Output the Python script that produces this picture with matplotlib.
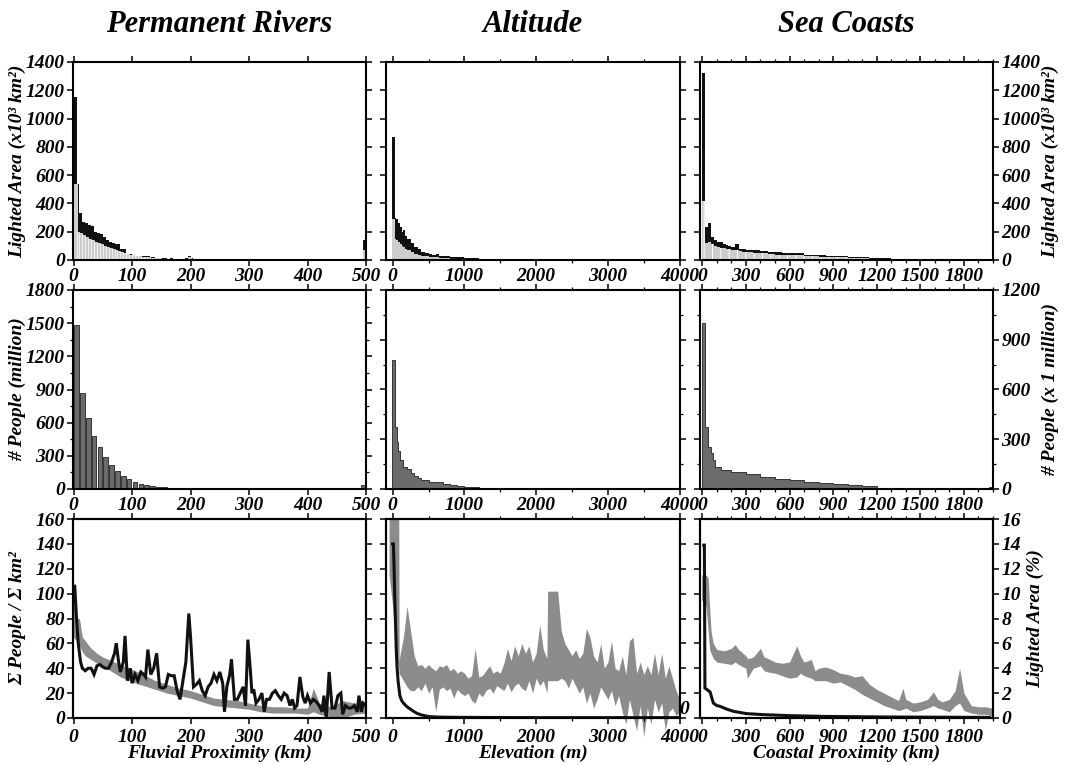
import numpy as np
import matplotlib
matplotlib.use("Agg")
import matplotlib.pyplot as plt
from matplotlib.ticker import MultipleLocator

plt.rcParams['font.family'] = ['Liberation Serif', 'DejaVu Serif']
plt.rcParams['font.weight'] = 'bold'
plt.rcParams['font.style'] = 'italic'
plt.rcParams['font.size'] = 14
plt.rcParams['axes.labelweight'] = 'bold'
plt.rcParams['axes.linewidth'] = 1.5
plt.rcParams['hatch.linewidth'] = 0.7
plt.rcParams['hatch.color'] = 'white'

# ---- top row: lighted area (x10^3 km^2) ----
riv_x = np.arange(0, 500, 5)
riv_total = [1150, 540, 330, 270, 260, 250, 240, 200, 190, 185,
             160, 140, 125, 120, 110, 110, 80, 75, 45, 40,
             35, 30, 28, 25, 25, 30, 22, 20, 15, 13,
             12, 12, 10, 12, 10, 8, 8, 8, 15, 25,
             12, 8, 6, 5, 5, 5, 5, 7, 7, 5,
             4, 4, 4, 5, 4, 3, 3, 3, 3, 5,
             3, 3, 2, 2, 3, 2, 2, 2, 2, 2,
             2, 2, 2, 2, 2, 2, 2, 2, 2, 2,
             2, 2, 2, 2, 2, 2, 2, 2, 2, 2,
             2, 2, 2, 2, 2, 2, 2, 2, 2, 140]
riv_lit = [540, 200, 190, 180, 165, 150, 140, 130, 120, 112,
           100, 95, 88, 80, 72, 65, 58, 52, 42, 38,
           32, 28, 25, 22, 20, 20, 17, 15, 12, 11,
           10, 9, 8, 9, 8, 6, 6, 6, 10, 18,
           9, 6, 5, 4, 4, 4, 4, 5, 5, 4,
           3, 3, 3, 4, 3, 2, 2, 2, 2, 4,
           2, 2, 1, 1, 2, 1, 1, 1, 1, 1,
           1, 1, 1, 1, 1, 1, 1, 1, 1, 1,
           1, 1, 1, 1, 1, 1, 1, 1, 1, 1,
           1, 1, 1, 1, 1, 1, 1, 1, 1, 70]

elev_x = [-15, 30, 50, 75, 100, 125, 150, 175, 200, 250, 300, 350, 400, 450, 500, 550, 600, 650,
          700, 800, 900, 1000, 1100, 1200, 1300, 1400, 1500, 1600, 1700, 1800, 1900, 2000, 2100,
          2200, 2300, 2400, 2500]
elev_total = [870, 300, 290, 260, 230, 200, 215, 170, 150, 120, 90, 75, 60, 50, 42, 38, 40, 30,
              25, 22, 18, 14, 12, 10, 8, 8, 6, 7, 5, 4, 3, 3, 2, 2, 2, 1, 0]
elev_lit = [290, 150, 140, 125, 110, 100, 90, 80, 70, 55, 45, 38, 30, 26, 22, 20, 18, 15,
            13, 10, 8, 7, 6, 5, 4, 4, 3, 3, 2, 2, 1.5, 1.5, 1, 1, 0.5, 0.5, 0]

coast_x = [0, 20, 40, 60, 80, 100, 120, 140, 160, 180, 200, 225, 250, 275, 300, 350, 400, 450,
           500, 550, 600, 650, 700, 750, 800, 850, 900, 950, 1000, 1050, 1100, 1150, 1200, 1250,
           1300, 1350, 1400, 1450, 1500, 1600, 1700, 1800, 1900, 1975, 2000]
coast_total = [1320, 230, 265, 160, 140, 130, 125, 115, 105, 100, 95, 110, 80, 75, 72, 70, 65, 58,
               55, 52, 48, 50, 38, 35, 32, 28, 27, 25, 22, 20, 18, 15, 15, 12,
               10, 9, 8, 7, 6, 5, 4, 3, 3, 8, 8]
coast_lit = [420, 120, 130, 110, 100, 90, 85, 82, 80, 76, 72, 70, 62, 58, 55, 50, 46, 42,
             38, 35, 32, 34, 28, 26, 24, 22, 20, 18, 16, 14, 12, 10, 9, 8,
             7, 6, 5, 4.5, 4, 3, 2.5, 2, 1.5, 4, 4]

# ---- middle row: people (million) ----
riv_pop_x = np.arange(0, 500, 10)
riv_people = [1480, 870, 640, 480, 380, 290, 215, 160, 120, 90,
              62, 45, 35, 28, 22, 18, 12, 9, 7, 5,
              6, 3, 2, 2, 1, 1, 1, 1, 1, 1,
              1, 1, 1, 1, 1, 1, 1, 1, 1, 1,
              1, 1, 1, 1, 1, 1, 1, 1, 1, 40]

elev_pop_x = [-15, 30, 55, 80, 100, 150, 200, 250, 300, 350, 400, 500, 600, 700, 800, 900,
              1000, 1200, 1400, 1600, 1800, 2000, 2200, 2400]
elev_pop = [775, 376, 285, 230, 175, 135, 120, 95, 80, 64, 55, 44, 40, 28, 24, 18,
            14, 8, 5, 4, 2, 2, 1, 0]

coast_pop_x = [0, 20, 40, 60, 75, 90, 130, 200, 300, 400, 500, 600, 650, 700, 800, 900,
               1000, 1100, 1200, 1300, 1400, 1500, 1975, 2000]
coast_pop = [1000, 376, 255, 215, 175, 130, 115, 105, 90, 75, 62, 52, 55, 45, 38, 32,
             26, 16, 6, 2, 1, 0, 10, 10]

# ---- bottom row: people per km2 (line) and lighted area % (band) ----
riv_dens_x = [2, 5, 8, 12, 15, 20, 25, 30, 35, 40,
              45, 50, 55, 60, 65, 70, 73, 77, 80, 85,
              88, 92, 97, 100, 105, 110, 115, 120, 123, 127,
              132, 137, 142, 147, 152, 157, 162, 167, 172, 177,
              182, 187, 192, 197, 200, 205, 210, 215, 220, 225,
              230, 235, 240, 245, 250, 255, 258, 262, 267, 270,
              275, 280, 285, 290, 294, 298, 302, 305, 308, 312,
              317, 322, 326, 330, 335, 340, 345, 350, 355, 360,
              365, 370, 374, 378, 382, 387, 392, 396, 400, 405,
              410, 415, 420, 425, 428, 432, 437, 442, 447, 452,
              457, 460, 465, 470, 475, 480, 485, 488, 492, 495, 500]
riv_dens = [106, 80, 60, 45, 40, 38, 40, 40, 35, 42,
            43, 41, 40, 40, 45, 52, 60, 45, 37, 45,
            66, 30, 40, 28, 35, 30, 37, 35, 33, 55,
            35, 40, 52, 25, 24, 25, 35, 34, 34, 22,
            15, 30, 45, 84, 65, 25, 27, 30, 22, 18,
            25, 28, 35, 30, 37, 28, 5, 25, 35, 47,
            15, 15, 20, 25, 10, 63, 40, 20, 23, 12,
            15, 20, 5, 15, 15, 20, 22, 18, 15, 20,
            18, 10, 15, 8, 10, 33, 17, 12, 18, 12,
            15, 13, 10, 5, 18, 0, 37, 8, 8, 18,
            20, 3, 10, 8, 8, 10, 5, 18, 5, 12, 10]
riv_band_x = [0, 5, 10, 15, 20, 30, 40, 50, 60, 70, 80, 90, 100, 120, 140, 160, 180, 200,
              220, 240, 260, 280, 300, 320, 340, 360, 380, 400, 410, 420, 440, 460, 480, 500]
riv_band_hi = [9.8, 8.0, 8.0, 6.5, 6.2, 5.6, 5.2, 4.9, 4.7, 4.5, 4.3, 4.1, 3.9, 3.5, 3.0, 2.7, 2.4, 2.2,
               1.9, 1.6, 1.5, 1.4, 1.2, 1.0, 0.9, 0.9, 0.8, 0.8, 2.4, 1.2, 0.9, 1.4, 1.2, 1.2]
riv_band_lo = [6.5, 6.2, 5.8, 5.3, 5.0, 4.7, 4.4, 4.1, 3.9, 3.6, 3.3, 3.1, 2.9, 2.6, 2.3, 2.0, 1.8, 1.6,
               1.3, 1.0, 0.9, 0.8, 0.7, 0.5, 0.4, 0.4, 0.4, 0.3, 0.5, 0.3, 0.1, 0.0, 0.3, 0.4]

elev_dens_x = [0, 10, 20, 30, 40, 50, 60, 75, 100, 125, 150, 200, 250, 300, 350, 400, 450,
               500, 600, 800, 1000, 1500, 2000, 2500, 3000, 3500, 4000]
elev_dens = [140, 140, 120, 95, 75, 55, 42, 30, 18, 14, 12, 9, 7, 5, 3.5, 2.5, 1.8,
             1.2, 0.8, 0.6, 0.5, 0.4, 0.3, 0.3, 0.3, 0.3, 0.3]
elev_band_x = [-50, 0, 50, 85, 90, 100, 150, 200, 250, 300,
               350, 400, 450, 500, 550, 600, 650, 700, 750, 800,
               850, 900, 950, 1000, 1050, 1100, 1150, 1200, 1250, 1300,
               1350, 1400, 1450, 1500, 1550, 1600, 1650, 1700, 1750, 1800,
               1850, 1900, 1950, 2000, 2050, 2100, 2150, 2160, 2300, 2350,
               2400, 2450, 2500, 2550, 2600, 2650, 2700, 2750, 2800, 2850,
               2900, 2950, 3000, 3050, 3100, 3150, 3200, 3250, 3300, 3350,
               3400, 3450, 3500, 3550, 3600, 3650, 3700, 3750, 3800, 3850,
               3900, 3950, 4000]
elev_band_hi = [16, 16, 16, 16, 4.5, 5.0, 6.5, 9.0, 7.0, 5.0,
                4.2, 4.3, 4.0, 4.3, 4.0, 3.8, 4.2, 4.1, 4.3, 3.8,
                4.0, 3.6, 3.8, 3.6, 3.2, 3.4, 5.6, 3.3, 3.4, 3.8,
                4.2, 3.6, 3.8, 3.6, 4.4, 5.6, 4.6, 5.8, 5.0, 6.0,
                5.2, 5.8, 4.5, 5.2, 7.5, 5.5, 4.8, 10.2, 10.2, 7.0,
                6.0, 5.5, 5.0, 5.5, 4.8, 5.2, 7.2, 6.5, 5.0, 4.5,
                6.0, 4.0, 4.5, 6.2, 4.0, 3.8, 5.0, 3.5, 6.2, 6.5,
                3.6, 4.5, 3.5, 4.2, 3.5, 5.2, 3.5, 5.2, 3.2, 4.2,
                3.2, 2.2, 1.5]
elev_band_lo = [11.5, 9.0, 5.0, 4.0, 3.5, 3.5, 3.0, 2.5, 2.2, 2.2,
                2.5, 2.2, 2.8, 2.0, 2.5, 0.5, 2.3, 2.5, 2.2, 2.4,
                1.6, 2.3, 2.0, 1.8, 2.0, 1.4, 1.2, 2.0, 1.7, 2.2,
                2.4, 2.0, 2.6, 2.4, 2.2, 2.8, 2.1, 2.6, 2.8, 2.4,
                2.2, 3.0, 2.0, 3.2, 2.6, 3.0, 2.0, 3.0, 3.0, 3.2,
                3.0, 2.4, 3.2, 2.6, 2.0, 2.5, 1.2, 2.0, 0.8, 1.5,
                2.5, 2.0, 1.5, 2.2, 1.0, 1.8, 0.5, -0.5, 1.5, 0.2,
                -1.0, 1.0, -1.5, 0.8, -0.5, 1.5, 0.5, 1.2, -1.0, 0.5,
                0.8, 0.2, 0.5]

coast_dens_x = [10, 14, 18, 30, 53, 76, 100, 121, 167, 213, 305, 420, 600, 830, 1290, 1976]
coast_dens = [139, 139, 24, 23, 21, 12, 10, 9.4, 7.2, 5.4, 3.5, 2.7, 1.9, 1.3, 0.8, 0.5]
coast_band_x = [-5, 25, 40, 50, 60, 75, 100, 150, 200, 225,
                250, 300, 310, 325, 350, 400, 425, 450, 500, 550,
                600, 650, 675, 700, 750, 775, 800, 850, 900, 950,
                1000, 1050, 1100, 1150, 1200, 1250, 1300, 1350, 1380, 1400,
                1450, 1500, 1550, 1590, 1620, 1650, 1700, 1740, 1770, 1800,
                1850, 1900, 1950, 1990]
coast_band_hi = [11.5, 11.5, 11.3, 9.0, 7.0, 6.0, 5.5, 5.4, 5.6, 5.9,
                 5.5, 5.0, 4.8, 4.8, 4.9, 5.6, 4.9, 4.8, 4.5, 4.4,
                 4.5, 5.8, 5.0, 4.5, 4.7, 3.8, 4.0, 4.1, 3.9, 3.6,
                 3.5, 3.3, 3.4, 2.7, 2.3, 2.0, 1.7, 1.4, 2.4, 1.5,
                 1.2, 1.3, 1.5, 2.1, 1.5, 1.3, 1.5, 2.2, 4.0, 2.0,
                 1.0, 0.9, 0.9, 0.8]
coast_band_lo = [9.5, 9.0, 7.0, 5.5, 5.2, 4.8, 4.5, 4.4, 4.3, 4.5,
                 4.3, 4.0, 3.2, 3.5, 4.0, 4.2, 3.8, 3.7, 3.6, 3.4,
                 3.2, 3.3, 3.6, 3.4, 3.2, 3.0, 3.0, 3.0, 2.8, 2.9,
                 2.6, 2.3, 1.9, 1.6, 1.3, 1.0, 0.8, 0.6, 0.7, 0.8,
                 0.5, 0.6, 0.8, 1.0, 0.8, 0.7, 0.5, 1.0, 1.2, 0.6,
                 0.4, 0.3, 0.3, 0.2]

titles = ['Permanent Rivers', 'Altitude', 'Sea Coasts']
xlabels = ['Fluvial Proximity (km)', 'Elevation (m)', 'Coastal Proximity (km)']

LIGHT = '#cdcdcd'
DARK = '#6b6b6b'
BAND = '#8c8c8c'
INK = '#111111'

fig = plt.figure(figsize=(10.67, 7.65), dpi=100)
W, H = 1067, 765
col_px = [(73, 366), (386, 680), (700, 993)]
row_px = [(62, 260), (290, 489), (519, 718)]


def make_ax(r, c):
    x0, x1 = col_px[c]
    y0, y1 = row_px[r]
    return fig.add_axes([x0 / W, 1 - y1 / H, (x1 - x0) / W, (y1 - y0) / H])


xlims = [(-1, 500), (-93, 4005), (-16, 2000)]
xticks = [np.arange(0, 501, 100), np.arange(0, 4001, 1000), np.arange(0, 1801, 300)]
xminor = [None, 500, 100]


def style(ax, c, ylim, ystep, yminor=None, right=True, labelleft=False, labelright=False):
    ax.set_xlim(*xlims[c])
    ax.set_xticks(xticks[c])
    if xminor[c]:
        ax.xaxis.set_minor_locator(MultipleLocator(xminor[c]))
    ax.set_ylim(*ylim)
    ax.yaxis.set_major_locator(MultipleLocator(ystep))
    if yminor:
        ax.yaxis.set_minor_locator(MultipleLocator(yminor))
    ax.tick_params(which='both', direction='out', top=True, bottom=True, left=True, right=right,
                   labelleft=labelleft, labelright=labelright, labeltop=False, labelbottom=True,
                   labelsize=14, pad=1.5)
    ax.tick_params(which='major', length=4.5, width=1.1)
    ax.tick_params(which='minor', length=2.5, width=0.9)


# ---------------- top row ----------------
ax = make_ax(0, 0)
ax.bar(riv_x, riv_total, width=5, align='edge', color=INK, linewidth=0)
ax.bar(riv_x, riv_lit, width=5, align='edge', color=LIGHT, edgecolor='white', linewidth=0.5)
style(ax, 0, (0, 1400), 200, labelleft=True)
ax.set_ylabel('Lighted Area (x10³ km²)')
ax.yaxis.set_label_coords(-0.16, 0.5)

ax = make_ax(0, 1)
ax.fill_between(elev_x, elev_total, step='post', color=INK, linewidth=0)
ax.fill_between(elev_x, elev_lit, step='post', color=LIGHT, linewidth=0)
style(ax, 1, (0, 1400), 200)

ax = make_ax(0, 2)
ax.fill_between(coast_x, coast_total, step='post', color=INK, linewidth=0)
ax.fill_between(coast_x, coast_lit, step='post', facecolor=LIGHT, edgecolor='white',
                hatch='||', linewidth=0)
style(ax, 2, (0, 1400), 200, labelright=True)
ax.yaxis.set_label_position('right')
ax.set_ylabel('Lighted Area (x10³ km²)')
ax.yaxis.set_label_coords(1.165, 0.5)

# ---------------- middle row ----------------
ax = make_ax(1, 0)
ax.bar(riv_pop_x + 1, riv_people, width=8, align='edge', color=DARK, edgecolor='#222222',
       linewidth=0.6)
style(ax, 0, (0, 1800), 300, 150, labelleft=True)
ax.set_ylabel('# People (million)')
ax.yaxis.set_label_coords(-0.16, 0.5)

ax = make_ax(1, 1)
ax.fill_between(elev_pop_x, elev_pop, step='post', facecolor=DARK, edgecolor='#222222',
                linewidth=0.6)
style(ax, 1, (0, 1200), 300, 150)

ax = make_ax(1, 2)
ax.fill_between(coast_pop_x, coast_pop, step='post', facecolor=DARK, edgecolor='#222222',
                linewidth=0.6)
style(ax, 2, (0, 1200), 300, 150, labelright=True)
ax.yaxis.set_label_position('right')
ax.set_ylabel('# People (x 1 million)')
ax.yaxis.set_label_coords(1.165, 0.5)

# ---------------- bottom row ----------------
bottom = [
    (riv_dens_x, riv_dens, riv_band_x, riv_band_lo, riv_band_hi),
    (elev_dens_x, elev_dens, elev_band_x, elev_band_lo, elev_band_hi),
    (coast_dens_x, coast_dens, coast_band_x, coast_band_lo, coast_band_hi),
]
for c, (lx, ly, bx, blo, bhi) in enumerate(bottom):
    ax = make_ax(2, c)
    tw = ax.twinx()
    tw.fill_between(bx, blo, bhi, color=BAND, linewidth=0, clip_on=(c != 1))
    ax.plot(lx, ly, color=INK, linewidth=2.2, solid_joinstyle='miter')
    style(ax, c, (0, 160), 20, right=False, labelleft=(c == 0))
    ax.tick_params(axis='x', pad=3.5)
    tw.set_ylim(0, 16)
    tw.set_yticks(np.arange(0, 17, 2))
    tw.tick_params(which='both', direction='out', right=True, left=False, length=4.5, width=1.1,
                   labelsize=14, pad=1.5, labelright=(c != 0))
    if c == 1:
        tw.set_yticklabels(['0'] + [''] * 8)
        tw.tick_params(pad=-5)
        tw.get_yticklabels()[0].set_va('bottom')
    ax.set_zorder(tw.get_zorder() + 1)
    ax.patch.set_visible(False)
    ax.set_xlabel(xlabels[c], labelpad=-1)
    if c == 0:
        ax.set_ylabel('Σ People / Σ km²')
        ax.yaxis.set_label_coords(-0.16, 0.5)
    if c == 2:
        tw.set_ylabel('Lighted Area (%)')
        tw.yaxis.set_label_coords(1.115, 0.5)

for c, t in enumerate(titles):
    x0, x1 = col_px[c]
    fig.text((x0 + x1) / 2 / W, 1 - 25 / H, t, ha='center', va='center', fontsize=22)

fig.savefig('out.png', dpi=100, facecolor='white')
